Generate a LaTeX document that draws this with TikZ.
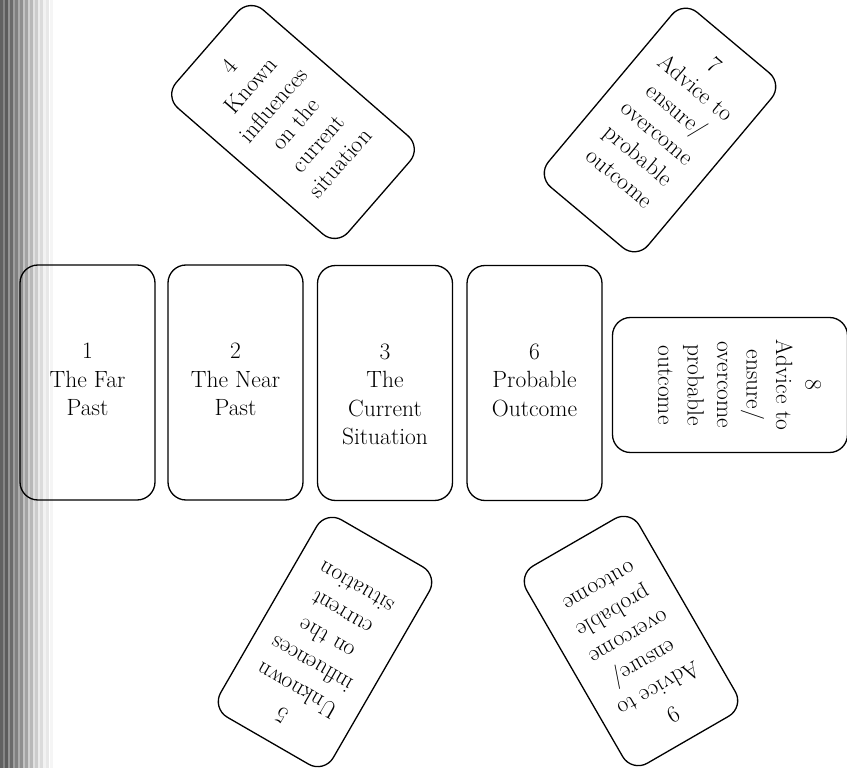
\documentclass[tikz,border=0pt]{standalone}
\usepackage{xcolor}
\usepackage{tikz}
\usetikzlibrary{positioning,calc}

\begin{document}
\begin{tikzpicture}[x=1pt,y=-1pt,font=\fontsize{23.5}{28.5}\selectfont,
  card/.style={draw,line width=1.3pt,rounded corners=18pt,minimum width=135pt,minimum height=235pt,inner sep=0pt},
  tilted/.style={card,minimum width=130pt,minimum height=228pt},
  lbl/.style={align=center,inner sep=0pt},
  turned/.style={lbl,font=\fontsize{23.5}{29.5}\selectfont}]
\useasboundingbox (0,0) rectangle (847,768);
% gutter shadow along the left edge
\foreach \x/\g in {0/62,2.5/48,5/64,7.5/42,10/58,12.5/38,15/50,17.5/32,20/44,22.5/24,25/36,27.5/18,30/28,32.5/12,35/20,37.5/8,40/14,43/5,46/9,50/4}
  \fill[black!\g] (\x,0) rectangle ++(2.5,768);
% the row of four
\node[card] (c1) at (87.5,382.5) {};
\node[card] (c2) at (235.5,382.5) {};
\node[card] (c3) at (385,383) {};
\node[card] (c6) at (534.5,383) {};
\node[lbl,below] (t1) at ([yshift=39.5pt]c1.center) {1\\The Far\\Past};
\node[lbl,below] (t2) at ([yshift=39.5pt]c2.center) {2\\The Near\\Past};
\node[lbl,below] (t3) at ([yshift=39.5pt]c3.center) {3\\The\\Current\\Situation};
\node[lbl,below] (t6) at ([yshift=39.5pt]c6.center) {6\\Probable\\Outcome};
% turned cards round the row
\node[card,rotate=-90] (c8) at (730,385) {};
\node[tilted,rotate=49] (c4) at (293,122) {};
\node[tilted,rotate=-40] (c7) at (660,130) {};
\node[tilted,rotate=150] (c5) at (325,642) {};
\node[tilted,rotate=210] (c9) at (631,641) {};
% their texts sit a little toward the card's top
\node[turned,rotate=-90] (t8) at ($(c8.center)!0.08!(c8.north)$) {8\\Advice to\\ensure/\\overcome\\probable\\outcome};
\node[turned,rotate=49] (t4) at ($(c4.center)!0.1!(c4.north)$) {4\\Known\\influences\\on the\\current\\situation};
\node[turned,rotate=-40] (t7) at ($(c7.center)!0.1!(c7.north)$) {7\\Advice to\\ensure/\\overcome\\probable\\outcome};
\node[turned,rotate=150] (t5) at ($(c5.center)!0.1!(c5.north)$) {5\\Unknown\\influences\\on the\\current\\situation};
\node[turned,rotate=210] (t9) at ($(c9.center)!0.1!(c9.north)$) {9\\Advice to\\ensure/\\overcome\\probable\\outcome};
\end{tikzpicture}
\end{document}
